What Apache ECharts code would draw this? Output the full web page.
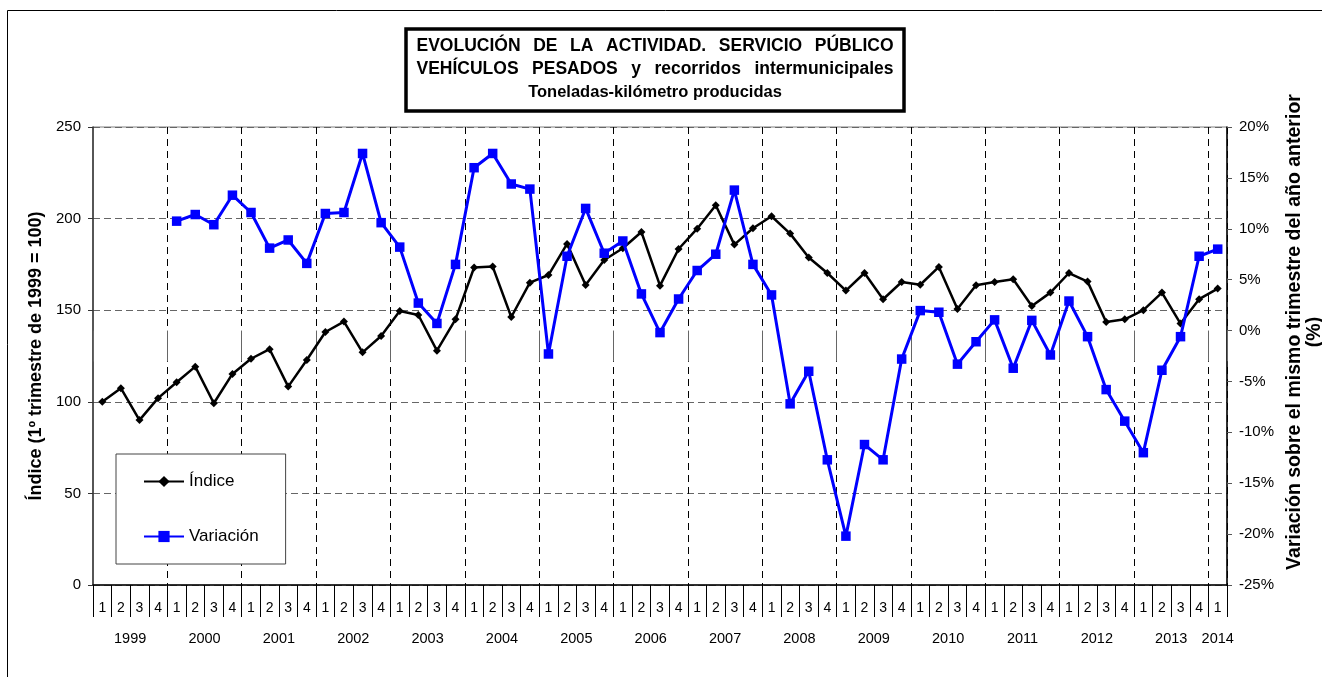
<!DOCTYPE html>
<html>
<head>
<meta charset="utf-8">
<script src="https://cdn.jsdelivr.net/npm/echarts@6/dist/echarts.min.js"></script>
<style>
html,body{margin:0;padding:0;background:#fff;}
#chart{width:1322px;height:677px;}
</style>
</head>
<body>
<div id="chart"></div>
<script>
const years = [1999,2000,2001,2002,2003,2004,2005,2006,2007,2008,2009,2010,2011,2012,2013,2014];
const quarters = ['1','2','3','4'];
const indice = [
  100, 107.4, 90, 102,
  110.7, 119.2, 99.2, 115.2,
  123.5, 128.7, 108.3, 122.8,
  138.1, 143.8, 127, 135.9,
  149.6, 147.4, 127.9, 145,
  173.3, 173.8, 146.3, 165,
  169.2, 186.2, 163.8, 177.4,
  183.8, 192.7, 163.4, 183.4,
  194.5, 207.3, 185.8, 194.7,
  201.3, 191.8, 178.8, 170.3,
  160.7, 170.3, 156, 165.4,
  163.9, 173.6, 150.7, 163.6,
  165.4, 166.9, 152.3, 159.6,
  170.3, 165.6, 143.6, 145,
  150, 159.6, 142.7, 156,
  161.8
];
const variacion = [
  null, null, null, null,
  10.75, 11.4, 10.4, 13.3,
  11.6, 8.1, 8.9, 6.6,
  11.5, 11.6, 17.4, 10.6,
  8.2, 2.7, 0.7, 6.5,
  16.0, 17.4, 14.4, 13.9,
  -2.3, 7.3, 12.0, 7.6,
  8.8, 3.6, -0.2, 3.1,
  5.9, 7.5, 13.8, 6.5,
  3.5, -7.2, -4.0, -12.7,
  -20.2, -11.2, -12.7, -2.8,
  1.96, 1.8, -3.3, -1.1,
  1.05, -3.7, 1.0, -2.4,
  2.9, -0.6, -5.8, -8.9,
  -12.0, -3.9, -0.6, 7.3,
  8.0
];
const leftTicks = {min: 0, max: 250, interval: 50};
const rightTicks = {min: -25, max: 20, interval: 5};
const titleLines = ['EVOLUCIÓN DE LA ACTIVIDAD. SERVICIO PÚBLICO', 'VEHÍCULOS PESADOS y recorridos intermunicipales', 'Toneladas-kilómetro producidas'];

// categories: one per quarter, 1999Q1 .. 2014Q1
const categories = [];
years.forEach(y => quarters.forEach(q => { if (categories.length < indice.length) categories.push(y + '-' + q); }));
const nCat = categories.length;
const yearEdges = [], yearCenters = [];
years.forEach((y, i) => {
  const s = i * 4, e = Math.min(s + 4, nCat);
  yearEdges.push(s);
  yearCenters.push((s + e) / 2);
});
yearEdges.push(nCat);

const FONT = '"Liberation Sans", Arial, sans-serif';

// title: first two lines justified to the same width, third line centred
const BIG = 17.5, SMALL = 16.5, LH = 23.5, TITLE_W = 477;
const mctx = document.createElement('canvas').getContext('2d');
mctx.font = 'bold ' + BIG + 'px ' + FONT;
const rich = {
  b: {fontSize: BIG, fontWeight: 'bold', fontFamily: FONT, lineHeight: LH, color: '#000'},
  s: {fontSize: SMALL, fontWeight: 'bold', fontFamily: FONT, lineHeight: LH, color: '#000'}
};
const titleText = titleLines.map((line, li) => {
  if (li === titleLines.length - 1) return '{s|' + line + '}';
  const words = line.split(' ');
  const used = words.reduce((s, w) => s + mctx.measureText(w).width, 0);
  const gap = Math.max(4, (TITLE_W - used) / (words.length - 1));
  const key = 'g' + li;
  rich[key] = {width: gap, fontSize: BIG, lineHeight: LH, fontFamily: FONT, fontWeight: 'bold'};
  return words.map(w => '{b|' + w + '}').join('{' + key + '| }');
}).join('\n');

const chart = echarts.init(document.getElementById('chart'), null, {renderer: 'canvas'});
chart.setOption({
  backgroundColor: '#ffffff',
  animation: false,
  textStyle: {fontFamily: FONT, color: '#000'},
  title: {
    text: titleText,
    left: 644, top: 29, textAlign: 'center',
    padding: [5, 11, 7, 11],
    borderColor: '#000', borderWidth: 3.5, backgroundColor: '#fff',
    textStyle: {fontFamily: FONT, fontSize: BIG, fontWeight: 'bold', color: '#000', lineHeight: LH, rich: rich}
  },
  graphic: [{
    type: 'rect', silent: true, z: -10,
    shape: {x: 7.5, y: 10.5, width: 1340, height: 700},
    style: {fill: 'none', stroke: '#000', lineWidth: 1}
  }],
  legend: {
    orient: 'vertical', left: 116, top: 454,
    padding: [19, 27, 19, 27], itemGap: 38,
    itemWidth: 40, itemHeight: 14,
    borderColor: '#444', borderWidth: 1, backgroundColor: '#fff',
    textStyle: {fontFamily: FONT, fontSize: 17, lineHeight: 17, color: '#000'},
    data: ['Índice', 'Variación']
  },
  grid: {left: 93, right: 95, top: 127, bottom: 92, show: true, borderColor: '#808080', borderWidth: 1,
    containLabel: false, outerBoundsMode: 'none'},
  xAxis: [{
    type: 'category', data: categories, boundaryGap: true, position: 'bottom',
    axisLine: {show: true, lineStyle: {color: '#000', width: 1.5}},
    axisTick: {show: true, interval: 0, length: 32, inside: false, lineStyle: {color: '#000', width: 1}},
    axisLabel: {interval: 0, margin: 16, fontSize: 14, color: '#000', fontFamily: FONT,
      formatter: v => v.split('-')[1]},
    splitLine: {show: true, interval: (i) => i % 4 === 0 && i > 0, lineStyle: {color: '#000', type: [7, 5], width: 1}}
  }, {
    type: 'value', min: 0, max: nCat, position: 'bottom', offset: 32,
    axisLine: {show: false},
    axisTick: {show: true, customValues: yearEdges, length: 31, inside: false, lineStyle: {color: '#666', width: 1}},
    axisLabel: {show: true, customValues: yearCenters, margin: 14, fontSize: 14.5, color: '#000', fontFamily: FONT,
      formatter: v => String(years[Math.floor(v / 4)])},
    splitLine: {show: false}
  }],
  yAxis: [{
    type: 'value', position: 'left', min: leftTicks.min, max: leftTicks.max, interval: leftTicks.interval,
    name: 'Índice (1º trimestre de 1999 = 100)', nameLocation: 'middle', nameRotate: 90, nameGap: 45,
    nameTextStyle: {fontFamily: FONT, fontSize: 18, fontWeight: 'bold', color: '#000'},
    axisLine: {show: true, lineStyle: {color: '#333', width: 1.5}},
    axisTick: {show: true, length: 5, inside: false, lineStyle: {color: '#333'}},
    axisLabel: {margin: 12, fontSize: 15, color: '#000', fontFamily: FONT},
    splitLine: {show: true, lineStyle: {color: '#666', type: [7, 4], width: 1}}
  }, {
    type: 'value', position: 'right', min: rightTicks.min, max: rightTicks.max, interval: rightTicks.interval,
    name: 'Variación sobre el mismo trimestre del año anterior\n(%)', nameLocation: 'middle', nameRotate: 90, nameGap: 57,
    nameTextStyle: {fontFamily: FONT, fontSize: 19.5, fontWeight: 'bold', color: '#000', lineHeight: 20, align: 'center',
      padding: [0, 0, 0, 48]},
    axisLine: {show: true, lineStyle: {color: '#000', width: 1.5}},
    axisTick: {show: true, length: 5, inside: false, lineStyle: {color: '#555'}},
    axisLabel: {margin: 12, fontSize: 15, color: '#000', fontFamily: FONT, formatter: '{value}%'},
    splitLine: {show: false}
  }],
  series: [{
    name: 'Índice', type: 'line', xAxisIndex: 0, yAxisIndex: 0, data: indice,
    symbol: 'diamond', symbolSize: 8, showAllSymbol: true,
    lineStyle: {color: '#000', width: 2.5}, itemStyle: {color: '#000'}, z: 3
  }, {
    name: 'Variación', type: 'line', xAxisIndex: 0, yAxisIndex: 1, data: variacion,
    symbol: 'rect', symbolSize: 9.5, showAllSymbol: true, connectNulls: false,
    lineStyle: {color: '#0000ff', width: 3}, itemStyle: {color: '#0000ff'}, z: 4
  }]
});
</script>
</body>
</html>
